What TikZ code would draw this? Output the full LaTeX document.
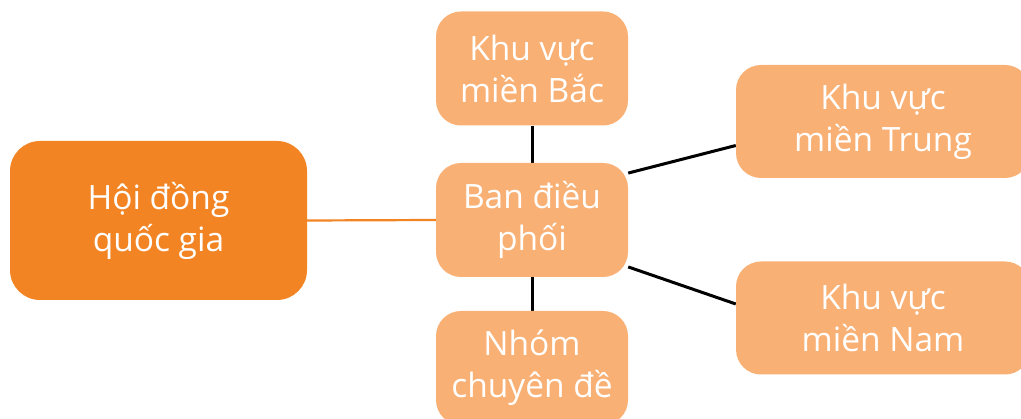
\documentclass[tikz,border=0pt]{standalone}
\usepackage{fontspec}
\setmainfont{Open Sans}
\usetikzlibrary{calc,backgrounds}
\definecolor{darkor}{HTML}{F28423}
\definecolor{lightor}{HTML}{F9B074}
\tikzset{
  box/.style={rectangle, rounded corners=25pt, fill=lightor, text=white, align=center,
    minimum width=192pt, minimum height=114pt, inner sep=0pt,
    font=\fontsize{33.5}{42}\selectfont},
  mainbox/.style={box, fill=darkor, rounded corners=30pt, minimum width=297pt, minimum height=159pt},
  wide/.style={box, minimum width=294pt, minimum height=113pt},
  link/.style={line width=3pt, black},
  olink/.style={line width=2.2pt, darkor}
}
\begin{document}
\begin{tikzpicture}[x=1pt,y=-1pt]
\useasboundingbox (0,0) rectangle (1021,419);
\clip (0,0) rectangle (1021,419);
\node[mainbox] (hd) at (158.5,220.5) {Hội đồng\\quốc gia};
\node[box] (ban) at (532,220) {Ban điều\\phối};
\node[box] (bac) at (532,68.5) {Khu vực\\miền Bắc};
\node[box] (nhom) at (532,368) {Nhóm\\chuyên đề};
\node[wide] (trung) at (883,121.5) {Khu vực\\miền Trung};
\node[wide] (nam) at (883,318) {Khu vực\\miền Nam};
\begin{scope}[on background layer]
\draw[olink] (hd.east) -- (ban.west);
\draw[link] (ban.north) -- (bac.south);
\draw[link] (ban.south) -- (nhom.north);
\draw[link] (ban.26) -- ($(trung.west)+(0,24)$);
\draw[link] (ban.-26) -- ($(nam.west)+(0,-14)$);
\end{scope}
\end{tikzpicture}
\end{document}
